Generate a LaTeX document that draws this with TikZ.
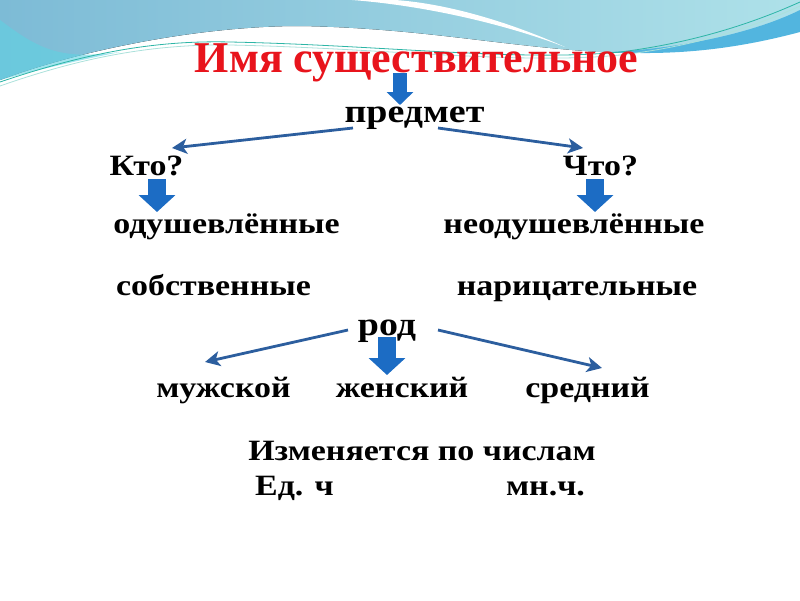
\documentclass[tikz,border=0pt]{standalone}
\usepackage{fontspec}
\newfontfamily\bodyfont{Liberation Serif}[FakeStretch=1.15]
\newfontfamily\titlefont{Liberation Serif}
\usetikzlibrary{arrows.meta}
\definecolor{titlered}{HTML}{E8141C}
\definecolor{arrblue}{HTML}{1C6CC4}
\definecolor{linkblue}{HTML}{2C5E9E}
\definecolor{bandleft}{HTML}{7DBBD6}
\definecolor{bandright}{HTML}{AEE1E9}
\definecolor{bandcyan}{HTML}{5FD2E2}
\definecolor{bandmid}{HTML}{52B5DF}
\definecolor{wavegreen}{HTML}{2DB5A6}
\tikzset{
  word/.style={inner sep=0pt, anchor=base, font=\bodyfont\bfseries\fontsize{29.5}{30}\selectfont},
  bigword/.style={word, font=\bodyfont\bfseries\fontsize{33}{34}\selectfont},
  titleword/.style={inner sep=0pt, anchor=base, text=titlered,
                    font=\titlefont\bfseries\fontsize{44}{45}\selectfont},
  thinarr/.style={draw=linkblue, line width=2.8pt, -{Stealth[length=15pt,width=15pt,inset=4pt]}},
  blockarr/.style={draw=arrblue, line width=18pt, -{Triangle[length=17pt,width=36pt]}},
  smallblock/.style={blockarr, line width=14pt, -{Triangle[length=13pt,width=26pt]}},
}
\begin{document}
\begin{tikzpicture}[x=1pt, y=-1pt]
  \useasboundingbox (0,0) rectangle (800,600);
  % wave band at the top
  \fill[left color=bandleft, right color=bandright] (0,0) -- (800,0) -- (800,28)
    .. controls (720,50) and (660,55) .. (600,52)
    .. controls (500,46) and (420,28) .. (300,26)
    .. controls (200,26) and (80,50) .. (0,80) -- cycle;
  \fill[bandcyan, opacity=0.6] (0,20) .. controls (40,50) and (60,60) .. (120,52)
    .. controls (70,62) and (30,72) .. (0,80) -- cycle;
  \fill[bandmid] (610,52) .. controls (690,48) and (760,30) .. (800,10) -- (800,32)
    .. controls (740,48) and (680,56) .. (610,52) -- cycle;
  \fill[white] (352,0) .. controls (430,6) and (510,26) .. (565,47)
    .. controls (500,18) and (440,3) .. (395,0) -- cycle;
  \draw[wavegreen, line width=0.8pt] (0,82) .. controls (80,55) and (150,40) .. (230,42)
    .. controls (380,45) and (520,62) .. (620,52) .. controls (700,42) and (760,20) .. (800,2);
  \draw[wavegreen!40, line width=0.8pt] (0,86) .. controls (80,58) and (150,44) .. (230,45)
    .. controls (380,48) and (520,65) .. (620,55) .. controls (700,46) and (760,24) .. (800,6);

  % words
  \node[titleword] (title) at (416.5,72) {Имя существительное};
  \node[bigword] (predmet) at (414.5,122) {предмет};
  \node[word] (kto) at (146.5,175) {Кто?};
  \node[word] (chto) at (600.5,175) {Что?};
  \node[word] (odush) at (226.5,233) {одушевлённые};
  \node[word] (neodush) at (574,233) {неодушевлённые};
  \node[word] (sobstv) at (213.5,295) {собственные};
  \node[word] (narits) at (577,295) {нарицательные};
  \node[bigword] (rod) at (387,335) {род};
  \node[word] (muzh) at (223.5,397) {мужской};
  \node[word] (zhen) at (402,397) {женский};
  \node[word] (sred) at (587.5,397) {средний};
  \node[word] (izmen) at (422,460) {Изменяется по числам};
  \node[word] (ed) at (294.5,495) {Ед. ч};
  \node[word] (mn) at (545.5,495) {мн.ч.};

  % arrows
  \draw[smallblock] ([shift={(-16.5,1)}]title.base) -- ([shift={(-14.5,-17)}]predmet.base);
  \draw[thinarr] ([shift={(-61.5,6)}]predmet.base) -- ([shift={(25.5,-27)}]kto.base);
  \draw[thinarr] ([shift={(23.5,6)}]predmet.base) -- ([shift={(-17.5,-27)}]chto.base);
  \draw[blockarr] ([shift={(10.5,4)}]kto.base) -- ([shift={(-69.5,-21)}]odush.base);
  \draw[blockarr] ([shift={(-5.5,4)}]chto.base) -- ([shift={(21,-21)}]neodush.base);
  \draw[thinarr] ([shift={(-39,-5)}]rod.base) -- ([shift={(-18.5,-35)}]muzh.base);
  \draw[thinarr] ([shift={(51,-5)}]rod.base) -- ([shift={(14.5,-29)}]sred.base);
  \draw[blockarr] ([shift={(0,2)}]rod.base) -- ([shift={(-15,-22)}]zhen.base);
\end{tikzpicture}
\end{document}
